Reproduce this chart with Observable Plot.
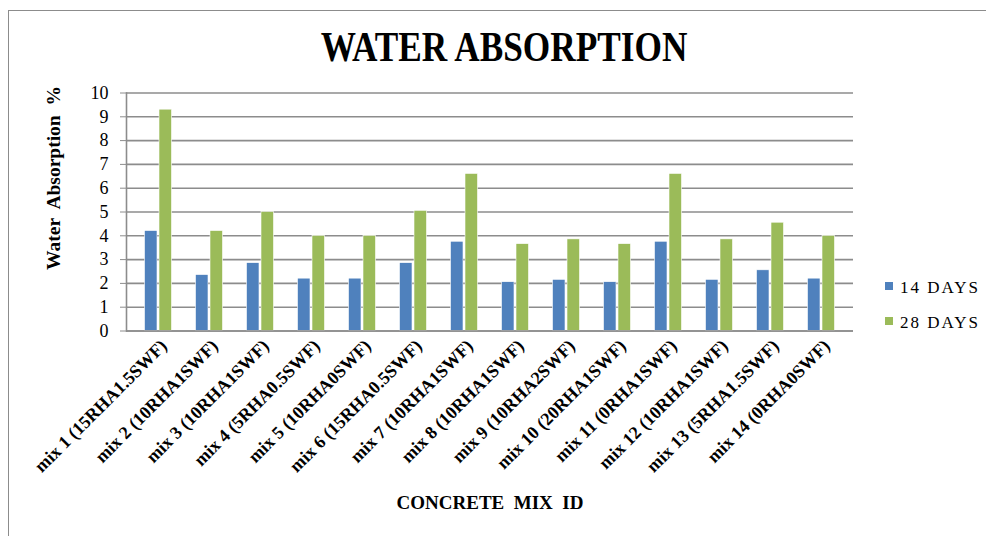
<!DOCTYPE html>
<html><head><meta charset="utf-8">
<script src="https://cdn.jsdelivr.net/npm/d3@7"></script>
<script src="https://cdn.jsdelivr.net/npm/@observablehq/plot@0.6"></script>
<style>
body{margin:0;background:#fff;}
#wrap{position:relative;width:986px;height:536px;overflow:hidden;background:#fff;}
#border{position:absolute;left:8px;top:10px;width:2000px;height:2000px;border-left:1.5px solid #8c8c8c;border-top:1.5px solid #8c8c8c;}
#chart,#overlay{position:absolute;left:0;top:0;}
</style>
</head><body>
<div id="wrap"><div id="border"></div><div id="chart"></div><svg id="overlay" width="986" height="536"></svg></div>
<script>
const mixes = ["mix 1 (15RHA1.5SWF)", "mix 2 (10RHA1SWF)", "mix 3 (10RHA1SWF)", "mix 4 (5RHA0.5SWF)", "mix 5 (10RHA0SWF)", "mix 6 (15RHA0.5SWF)", "mix 7 (10RHA1SWF)", "mix 8 (10RHA1SWF)", "mix 9 (10RHA2SWF)", "mix 10 (20RHA1SWF)", "mix 11 (0RHA1SWF)", "mix 12 (10RHA1SWF)", "mix 13 (5RHA1.5SWF)", "mix 14 (0RHA0SWF)"];
const days14 = [4.2, 2.35, 2.85, 2.2, 2.2, 2.85, 3.75, 2.05, 2.15, 2.05, 3.75, 2.15, 2.55, 2.2];
const days28 = [9.3, 4.2, 5.0, 4.0, 4.0, 5.05, 6.6, 3.65, 3.85, 3.65, 6.6, 3.85, 4.55, 4.0];
const seriesNames = ["14 DAYS", "28 DAYS"];
const seriesColors = ["#4F81BD", "#9BBB59"];
const yTicks = [0, 1, 2, 3, 4, 5, 6, 7, 8, 9, 10];

const FONT = "'Liberation Serif','Times New Roman',serif";
const d14 = mixes.map((m, i) => ({mix: m, value: days14[i]}));
const d28 = mixes.map((m, i) => ({mix: m, value: days28[i]}));

const chart = Plot.plot({
  width: 986, height: 536,
  marginLeft: 126, marginRight: 133, marginTop: 92.5, marginBottom: 205.5,
  style: {fontFamily: FONT, background: "transparent", color: "#000"},
  x: {domain: mixes, padding: 0, axis: null},
  y: {domain: [0, 10], axis: null},
  marks: [
    Plot.gridY(yTicks, {stroke: "#8c8c8c", strokeOpacity: 1, strokeWidth: 1.6}),
    Plot.axisY(yTicks, {tickSize: 6, tickPadding: 12, stroke: "#8c8c8c", fontSize: 18, fontFamily: FONT, fill: "#000", label: null}),
    Plot.axisX({tickRotate: -45, tickSize: 0, tickPadding: 12, dx: 5, fontSize: 18, fontWeight: "bold", fontFamily: FONT, fill: "#000", label: null}),
    Plot.barY(d14, {x: "mix", y: "value", fill: seriesColors[0], stroke: "#ffffff", strokeWidth: 0.6, insetLeft: 11.5, insetRight: 27}),
    Plot.barY(d28, {x: "mix", y: "value", fill: seriesColors[1], stroke: "#ffffff", strokeWidth: 0.6, insetLeft: 26, insetRight: 12.5}),
    Plot.ruleY([0], {stroke: "#8c8c8c", strokeWidth: 1.6}),
    Plot.frame({anchor: "left", stroke: "#8c8c8c", strokeWidth: 1.6})
  ]
});
document.getElementById("chart").appendChild(chart);

const ov = d3.select("#overlay").style("font-family", FONT);
ov.append("text").attr("transform", "translate(504,61) scale(0.84,1)")
  .attr("text-anchor", "middle").attr("font-size", 42).attr("font-weight", "bold").text("WATER ABSORPTION");
ov.append("text").attr("transform", "translate(60,178) rotate(-90)")
  .attr("text-anchor", "middle").attr("font-size", 19.5).attr("font-weight", "bold")
  .style("white-space", "pre").text("Water  Absorption  %");
ov.append("text").attr("x", 490).attr("y", 509)
  .attr("text-anchor", "middle").attr("font-size", 19).attr("font-weight", "bold")
  .style("white-space", "pre").text("CONCRETE  MIX  ID");
seriesNames.forEach((s, i) => {
  const y = 282 + i * 35;
  ov.append("rect").attr("x", 885).attr("y", y).attr("width", 8).attr("height", 8).attr("fill", seriesColors[i]);
  ov.append("text").attr("x", 900).attr("y", y + 11).attr("font-size", 17).attr("letter-spacing", "2px").text(s);
});
</script>
</body></html>
